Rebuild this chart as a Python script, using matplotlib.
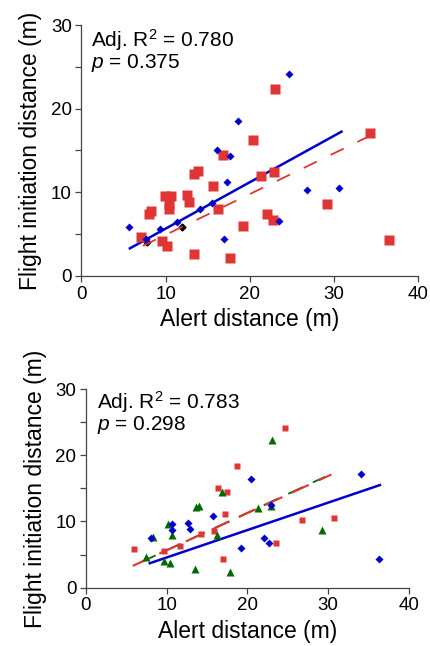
import matplotlib.pyplot as plt
from matplotlib.ticker import MultipleLocator

plt.rcParams['font.family'] = ['Liberation Sans', 'DejaVu Sans']
plt.rcParams['mathtext.fontset'] = 'custom'
plt.rcParams['mathtext.rm'] = 'Liberation Sans'
plt.rcParams['mathtext.it'] = 'Liberation Sans:italic'

RED = '#e03535'
BLUE = '#0000cc'
GREEN = '#006a00'

# top panel
top_blue_x = [5.7, 9.3, 11.4, 7.7, 14.1, 15.5, 16.9, 17.3, 16.1, 17.6, 18.6, 24.7, 26.8, 30.6, 23.5]
top_blue_y = [5.9, 5.6, 6.4, 4.4, 8.0, 8.7, 4.4, 11.2, 15.0, 14.4, 18.5, 24.2, 10.3, 10.5, 6.6]
top_black_x = [7.8, 11.9]
top_black_y = [4.1, 5.8]
top_red_x = [7.1, 9.6, 10.2, 8.0, 8.3, 9.9, 10.6, 10.4, 10.4, 12.5, 12.8, 13.4, 13.9, 13.4,
             15.6, 16.2, 16.8, 17.7, 19.2, 20.4, 21.3, 22.1, 22.8, 22.9, 23.0, 29.2, 34.3, 36.5]
top_red_y = [4.7, 4.2, 3.6, 7.4, 7.8, 9.5, 9.5, 8.6, 8.0, 9.7, 8.8, 12.2, 12.5, 2.6,
             10.8, 8.0, 14.5, 2.2, 6.0, 16.3, 11.9, 7.4, 6.7, 12.4, 22.3, 8.6, 17.1, 4.3]
top_blue_fit_x = [5.75, 30.9]
top_blue_fit_y = [3.3, 17.25]
top_red_fit_x = [7.3, 34.8]
top_red_fit_y = [3.6, 17.0]

# bottom panel
bot_blue_x = [8.0, 10.7, 10.7, 12.6, 12.9, 15.7, 19.2, 20.4, 22.1, 22.7, 22.9, 34.1, 36.3]
bot_blue_y = [7.5, 9.6, 8.7, 9.8, 8.8, 10.9, 6.0, 16.4, 7.5, 6.8, 12.5, 17.1, 4.4]
bot_red_x = [5.9, 9.6, 11.6, 14.2, 15.8, 16.4, 17.5, 17.2, 17.0, 18.7, 23.5, 24.7, 26.8, 30.7]
bot_red_y = [5.8, 5.5, 6.3, 8.1, 8.6, 15.0, 14.4, 11.2, 4.4, 18.4, 6.7, 24.1, 10.3, 10.5]
bot_green_x = [7.4, 8.3, 9.7, 10.1, 10.4, 10.7, 13.5, 13.6, 14.0, 16.2, 16.9, 17.8, 21.3, 22.9, 23.0, 29.2]
bot_green_y = [4.6, 7.7, 4.1, 9.6, 3.8, 8.0, 2.8, 12.2, 12.4, 8.0, 14.5, 2.3, 12.0, 12.3, 22.3, 8.7]
bot_blue_fit_x = [7.9, 36.4]
bot_blue_fit_y = [3.7, 15.5]
bot_red_fit_x = [5.8, 30.4]
bot_red_fit_y = [3.3, 17.1]
bot_green_fit_x = [6.8, 29.6]
bot_green_fit_y = [3.85, 16.75]

fig = plt.figure(figsize=(4.31, 6.46), dpi=100)
ax1 = fig.add_axes([0.189, 0.5728, 0.781, 0.3885])
ax2 = fig.add_axes([0.1995, 0.0902, 0.7494, 0.3076])


def style(ax):
    ax.set_xlim(0, 40)
    ax.set_ylim(0, 30)
    ax.xaxis.set_major_locator(MultipleLocator(10))
    ax.yaxis.set_major_locator(MultipleLocator(10))
    ax.yaxis.set_minor_locator(MultipleLocator(5))
    for s in ['top', 'right']:
        ax.spines[s].set_visible(False)
    for s in ['left', 'bottom']:
        ax.spines[s].set_color('#444444')
        ax.spines[s].set_linewidth(0.9)
    ax.tick_params(which='both', direction='out', length=4, width=0.9, color='#444444',
                   labelsize=13.5, pad=3)
    ax.set_xlabel('Alert distance (m)', fontsize=16.5, labelpad=4)
    ax.set_ylabel('Flight initiation distance (m)', fontsize=16.5, labelpad=6)


style(ax1)
ax1.plot(top_black_x, top_black_y, 'D', color='black', ms=3.5, zorder=1.5)
ax1.plot(top_red_fit_x, top_red_fit_y, color=RED, lw=1.3, dashes=(8, 8.5), zorder=2)
ax1.plot(top_blue_fit_x, top_blue_fit_y, color=BLUE, lw=1.8, zorder=2)
ax1.plot(top_red_x, top_red_y, 's', color=RED, mec='none', ms=6.5, zorder=3)
ax1.plot(top_blue_x, top_blue_y, 'D', color=BLUE, mec='none', ms=4.5, zorder=4)
# va='baseline' on a two-line text anchors the last line
ax1.text(0.027, 0.829, 'Adj. R$^{2}$ = 0.780\n$p$ = 0.375', transform=ax1.transAxes,
         fontsize=15, va='baseline', linespacing=0.95)

style(ax2)
ax2.plot(bot_green_fit_x, bot_green_fit_y, color=GREEN, lw=1.3, dashes=(9, 6), zorder=2)
ax2.plot(bot_red_fit_x, bot_red_fit_y, color=RED, lw=1.5, dashes=(9, 5), zorder=2)
ax2.plot(bot_blue_fit_x, bot_blue_fit_y, color=BLUE, lw=1.8, zorder=2)
ax2.plot(bot_red_x, bot_red_y, 's', color=RED, mec='none', ms=5, zorder=3)
ax2.plot(bot_green_x, bot_green_y, '^', color=GREEN, mec='none', ms=6, zorder=3)
ax2.plot(bot_blue_x, bot_blue_y, 'D', color=BLUE, mec='none', ms=4, zorder=4)
ax2.text(0.035, 0.794, 'Adj. R$^{2}$ = 0.783\n$p$ = 0.298', transform=ax2.transAxes,
         fontsize=15, va='baseline', linespacing=0.95)

fig.savefig('out.png', dpi=100)
